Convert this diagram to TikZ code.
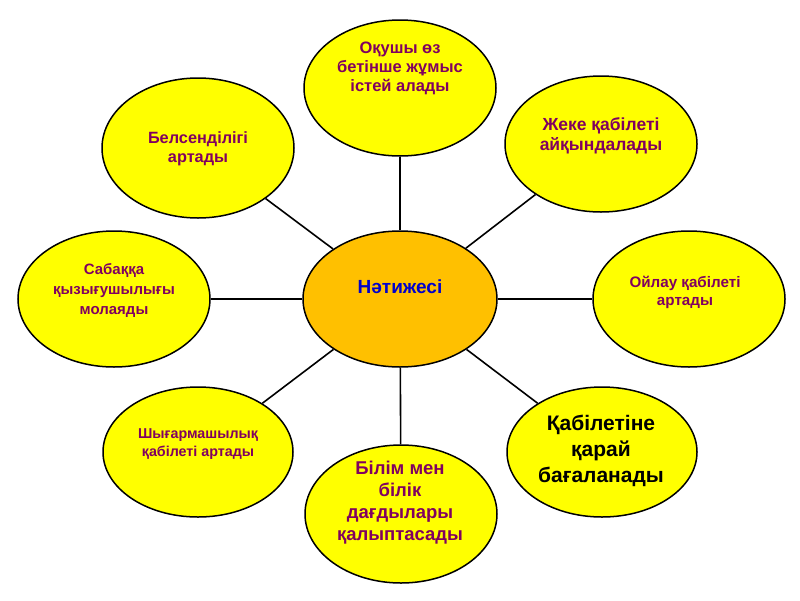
\documentclass[tikz,border=0pt]{standalone}
\usepackage{fontspec}
\setmainfont{Liberation Sans}
\usetikzlibrary{shapes.geometric}
\definecolor{petal}{RGB}{255,255,0}
\definecolor{hub}{RGB}{255,192,0}
\definecolor{txtpurple}{RGB}{128,0,96}
\definecolor{txtblue}{RGB}{0,0,204}
\tikzset{
  petalshape/.style={ellipse, draw=black, line width=1.5pt, fill=petal, inner sep=0pt,
     minimum width=192pt, minimum height=136pt},
  hubshape/.style={ellipse, draw=black, line width=1.5pt, fill=hub, inner sep=0pt,
     minimum width=194pt, minimum height=136pt},
  link/.style={draw=black, line width=1.6pt},
  ptext/.style={align=center, text=txtpurple, inner sep=0pt},
}
\begin{document}
\begin{tikzpicture}[x=1pt,y=-1pt]
\useasboundingbox (0,0) rectangle (800,600);
% ellipses
\node[hubshape] (c) at (400,299) {};
\node[petalshape] (t) at (400,88) {};
\node[petalshape] (tr) at (601,144) {};
\node[petalshape] (r) at (689,299) {};
\node[petalshape, minimum height=130pt, minimum width=190pt] (br) at (602,452) {};
\node[petalshape, minimum height=138pt] (b) at (401,514) {};
\node[petalshape, minimum height=130pt, minimum width=190pt] (bl) at (198,452) {};
\node[petalshape] (l) at (114,299) {};
\node[petalshape, minimum height=140pt] (tl) at (198,148) {};
% connectors between the borders
\foreach \n in {t,tr,r,br,b,bl,l,tl} {\draw[link] (c) -- (\n);}
% texts
\node[align=center, text=txtblue, inner sep=0pt, font=\bfseries\fontsize{19}{22}\selectfont] (ct) at (400,287) {Нәтижесі};
\node[ptext, font=\bfseries\fontsize{16.5}{19}\selectfont] (tt) at (400,68) {Оқушы өз\\бетінше жұмыс\\істей алады};
\node[ptext, font=\bfseries\fontsize{17.5}{20}\selectfont] (trt) at (601,136) {Жеке қабілеті\\айқындалады};
\node[ptext, font=\bfseries\fontsize{15.2}{18}\selectfont] (rt) at (685,292) {Ойлау қабілеті\\артады};
\node[align=center, text=black, inner sep=0pt, font=\bfseries\fontsize{21}{26}\selectfont] (brt) at (601,451) {Қабілетіне\\қарай\\бағаланады};
\node[ptext, font=\bfseries\fontsize{18.5}{22}\selectfont] (bt) at (400,503) {Білім мен\\білік\\дағдылары\\қалыптасады};
\node[ptext, font=\bfseries\fontsize{14.3}{18}\selectfont] (blt) at (198,444) {Шығармашылық\\қабілеті артады};
\node[ptext, font=\bfseries\fontsize{15}{20}\selectfont] (lt) at (114,290) {Сабаққа\\қызығушылығы\\молаяды};
\node[ptext, font=\bfseries\fontsize{16.3}{19}\selectfont] (tlt) at (198,149) {Белсенділігі\\артады};
\end{tikzpicture}
\end{document}
